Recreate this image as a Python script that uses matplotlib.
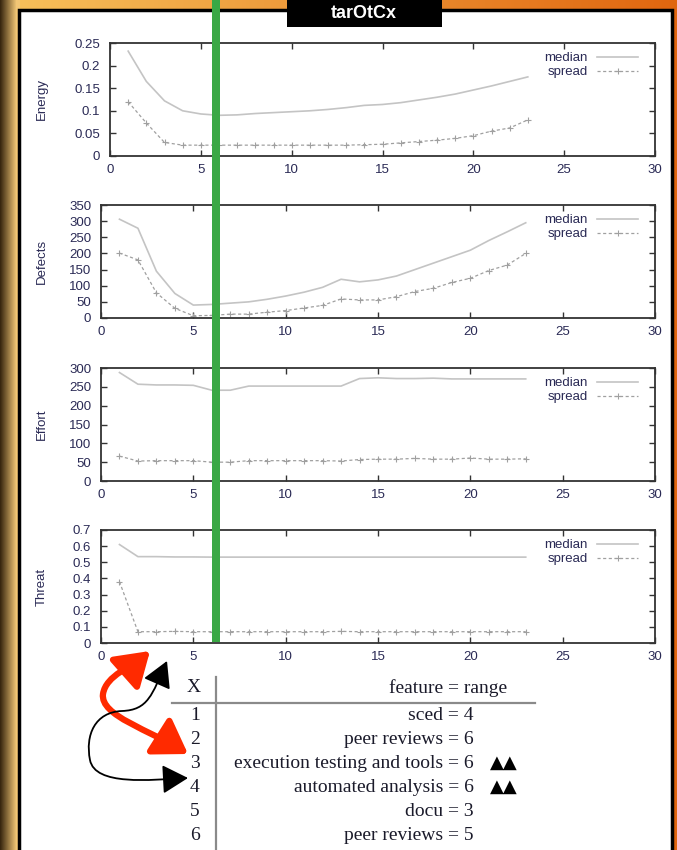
import numpy as np
import matplotlib
matplotlib.use('Agg')
import matplotlib.pyplot as plt
from matplotlib.patches import Rectangle, FancyArrowPatch
from matplotlib.path import Path

#####################
# data
x = list(range(1, 24))
energy_median = [0.232, 0.165, 0.122, 0.100, 0.093, 0.090, 0.091, 0.094, 0.096, 0.098, 0.100, 0.103,
                 0.107, 0.112, 0.114, 0.118, 0.124, 0.130, 0.137, 0.146, 0.155, 0.165, 0.175]
energy_spread = [0.120, 0.073, 0.030, 0.024, 0.024, 0.024, 0.024, 0.024, 0.024, 0.024, 0.024, 0.024,
                 0.024, 0.025, 0.026, 0.029, 0.032, 0.035, 0.039, 0.045, 0.055, 0.062, 0.080]
defects_median = [306, 278, 145, 76, 40, 42, 46, 50, 58, 68, 80, 95,
                  120, 112, 118, 130, 150, 170, 190, 210, 240, 267, 295]
defects_spread = [201, 180, 78, 30, 7, 8, 12, 12, 18, 23, 31, 39,
                  59, 56, 56, 66, 82, 92, 110, 123, 147, 164, 200]
effort_median = [288, 257, 255, 255, 254, 241, 241, 252, 252, 252, 252, 252,
                 252, 272, 274, 272, 272, 273, 271, 271, 271, 271, 271]
effort_spread = [66, 53, 54, 54, 54, 50, 50, 54, 54, 54, 54, 54,
                 53, 57, 58, 58, 60, 58, 58, 61, 58, 58, 59]
threat_median = [0.61, 0.535, 0.535, 0.533, 0.533, 0.532, 0.532, 0.532, 0.532, 0.532, 0.532, 0.532,
                 0.532, 0.532, 0.532, 0.532, 0.532, 0.532, 0.532, 0.532, 0.532, 0.532, 0.532]
threat_spread = [0.38, 0.07, 0.07, 0.072, 0.07, 0.07, 0.07, 0.07, 0.07, 0.07, 0.07, 0.07,
                 0.072, 0.07, 0.07, 0.07, 0.07, 0.07, 0.07, 0.07, 0.07, 0.07, 0.07]

panels = ['Energy', 'Defects', 'Effort', 'Threat']
medians = [energy_median, defects_median, effort_median, threat_median]
spreads = [energy_spread, defects_spread, effort_spread, threat_spread]
yticks = [np.arange(0, 0.26, 0.05), np.arange(0, 351, 50), np.arange(0, 301, 50), np.arange(0, 0.71, 0.1)]
ylims = [0.25, 350, 300, 0.7]

table_x = ['1', '2', '3', '4', '5', '6']
table_rows = ['sced = 4', 'peer reviews = 6', 'execution testing and tools = 6',
              'automated analysis = 6', 'docu = 3', 'peer reviews = 5']
table_marks = ['', '', '\u25b2\u25b2', '\u25b2\u25b2', '', '']
#####################

W, H = 677, 850
fig = plt.figure(figsize=(W/100, H/100), dpi=100)

def box(l, t, r, b):
    return [l/W, 1-b/H, (r-l)/W, (b-t)/H]

# background (slide)
bg = fig.add_axes([0, 0, 1, 1], zorder=-5)
gx = np.linspace(0, 1, W)
img = np.ones((H, W, 3))
top = np.stack([0.97-0.09*gx, 0.76-0.36*gx, 0.36-0.30*gx], axis=1)
img[:, :, :] = top[None, :, :]
lx = np.clip(np.arange(W)/16.0, 0, 1)
left = np.stack([0.22+0.73*lx, 0.15+0.63*lx, 0.06+0.40*lx], axis=1)
img[:, :20, :] = left[None, :20, :]
bg.imshow(img, extent=[0, W, H, 0], aspect='auto')
bg.add_patch(Rectangle((19, 10), 653, 845, facecolor='white', edgecolor='black', lw=2.5))
bg.set_xlim(0, W)
bg.set_ylim(H, 0)
bg.axis('off')

axpos = [(110, 43, 655, 156), (101, 205, 655, 318), (101, 368, 655, 481), (101, 530, 655, 643)]
txtc = '#2a2a55'
for i in range(4):
    l, tp, r, b = axpos[i]
    ax = fig.add_axes(box(l, tp, r, b))
    ax.plot(x, medians[i], '-', color='#c4c4c4', lw=1.2, label='median')
    ax.plot(x, spreads[i], '--', color='#a0a0a0', lw=0.9, dashes=(2.5, 2),
            marker='+', markersize=4, mew=0.8, label='spread')
    ax.set_xlim(0, 30)
    ax.set_ylim(0, ylims[i])
    ax.set_xticks(range(0, 31, 5))
    ax.set_yticks(yticks[i])
    ax.set_yticklabels(['%g' % round(v, 2) for v in yticks[i]])
    ax.tick_params(direction='in', length=4, width=1, top=True, right=True,
                   labelsize=9.5, labelcolor=txtc, color='#333333')
    ax.tick_params(axis='y', pad=7)
    ax.tick_params(axis='x', pad=6)
    for s in ax.spines.values():
        s.set_color('#333333')
        s.set_linewidth(1.3)
    for lab in ax.get_xticklabels() + ax.get_yticklabels():
        lab.set_family('Liberation Sans')
    leg = ax.legend(loc='upper right', markerfirst=False, frameon=False,
                    bbox_to_anchor=(1-17/(r-l), 1-9/(b-tp)),
                    handlelength=3.1, handletextpad=0.7, labelspacing=0.15,
                    borderaxespad=0, borderpad=0,
                    prop={'family': 'Liberation Sans', 'size': 9.5})
    for t in leg.get_texts():
        t.set_color(txtc)
    fig.text(42/W, 1-((tp+b)/2)/H, panels[i], rotation=90, ha='center', va='center',
             fontsize=9.5, color=txtc, family='Liberation Sans')

# foreground overlay: table, arrows, green bar, title box
fg = fig.add_axes([0, 0, 1, 1], zorder=10)
fg.patch.set_alpha(0)
fg.set_xlim(0, W)
fg.set_ylim(H, 0)
fg.axis('off')

fg.add_patch(Rectangle((212, 0), 8, 642, facecolor='#3aa845', edgecolor='none'))
fg.add_patch(Rectangle((287, 0), 155, 27, facecolor='black', edgecolor='none'))
fg.text(364, 13, 'tarOtCx', color='white', fontsize=13, fontweight='bold',
        ha='center', va='center', family='Liberation Sans')

serif = ['Liberation Serif', 'DejaVu Sans']
fg.plot([216, 216], [677, 849], color='#8a8a8a', lw=1.6)
fg.plot([172, 535], [703, 703], color='#8a8a8a', lw=1.6)
fg.text(194, 688, 'X', ha='center', va='center', fontsize=14, family=serif, color='#1a1a2a')
fg.text(507, 688, 'feature = range', ha='right', va='center', fontsize=14, family=serif, color='#1a1a2a')
for i in range(6):
    y = 715 + 24*i
    fg.text(195, y, table_x[i], ha='center', va='center', fontsize=14, family=serif, color='#1a1a2a')
    fg.text(474, y, table_rows[i], ha='right', va='center', fontsize=14, family=serif, color='#1a1a2a')
    if table_marks[i]:
        fg.text(504, y, table_marks[i], ha='center', va='center', fontsize=13,
                family=['DejaVu Sans'], color='black')

# red double arrow
rverts = [(188, 754), (150, 730), (100, 716), (103, 694),
          (106, 675), (132, 667), (150, 651)]
red = FancyArrowPatch(path=Path(rverts, [Path.MOVETO] + [Path.CURVE4]*6),
                      arrowstyle='<|-|>,head_length=1.0,head_width=0.65', mutation_scale=20,
                      color='#ff2a00', lw=4.5)
fg.add_patch(red)
# black double arrow
verts = [(188, 778), (150, 780), (95, 786), (90, 760),
         (85, 735), (95, 712), (122, 711),
         (148, 710), (152, 695), (167, 661)]
blk = FancyArrowPatch(path=Path(verts, [Path.MOVETO] + [Path.CURVE4]*9),
                      arrowstyle='<|-|>,head_length=0.8,head_width=0.45', mutation_scale=20,
                      color='black', lw=1.3)
fg.add_patch(blk)

plt.savefig('out.png', dpi=100)
